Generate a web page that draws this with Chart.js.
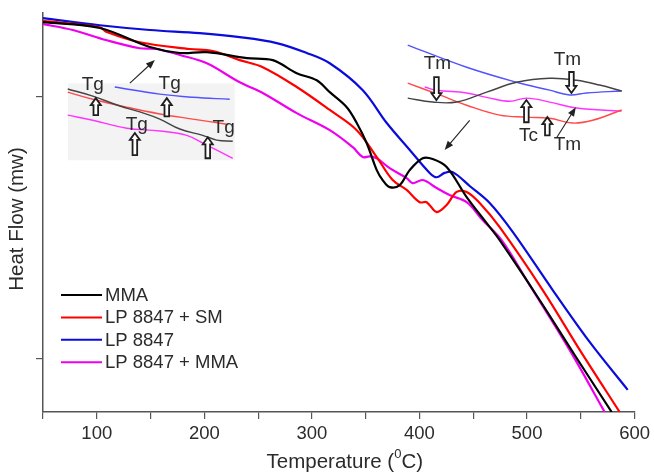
<!DOCTYPE html>
<html>
<head>
<meta charset="utf-8">
<script src="https://cdn.jsdelivr.net/npm/chart.js@4.4.1/dist/chart.umd.min.js"></script>
<style>
  html, body { margin: 0; padding: 0; background: #fff; }
  #wrap { width: 654px; height: 473px; }
</style>
</head>
<body>
<div id="wrap"><canvas id="dsc"></canvas></div>
<script>
/* DSC heat-flow curves. Temperature in degC, heat flow in arbitrary units
 * (the figure has no y tick labels). */

// main curves: [temperature, heat flow]
const mma = [
  [50, 98.5], [102.8, 97.0], [149.3, 92.2], [177.2, 90.7], [202.3, 90.9],
  [239.5, 89.4], [263.6, 88.9], [285.9, 85.6], [304.5, 83.8], [316.6, 80.8],
  [332.4, 77.0], [341.7, 73.0], [351.0, 67.9], [360.3, 61.1], [365.8, 58.6],
  [372.3, 56.8], [381.6, 57.3], [390.9, 61.1], [403.0, 64.1], [412.3, 63.9],
  [425.3, 61.9], [443.9, 54.3], [462.5, 47.7], [474.6, 43.4], [511.7, 28.3],
  [544.3, 14.4], [578.7, 0],
];
const lpSm = [
  [50, 98.8], [102.8, 97.2], [109.3, 96.0], [140.0, 93.4], [186.4, 91.7],
  [207.8, 91.2], [232.9, 88.9], [254.3, 87.1], [285.9, 82.1], [316.6, 76.3],
  [341.7, 71.2], [360.3, 64.4], [375.1, 58.6], [388.1, 56.1], [400.2, 53.0],
  [406.7, 53.0], [416.0, 50.5], [425.3, 52.3], [434.6, 55.6], [443.9, 55.6],
  [456.0, 52.8], [474.6, 46.7], [514.6, 30.8], [549.0, 15.7], [586.1, 0],
];
const lp = [
  [50, 99.5], [102.8, 97.7], [149.3, 96.5], [195.7, 95.7], [232.9, 94.7],
  [267.3, 93.2], [295.2, 90.7], [316.6, 88.1], [347.3, 81.3], [369.6, 73.0],
  [391.0, 66.2], [409.5, 60.4], [416.0, 59.3], [423.4, 60.4], [430.9, 60.6],
  [446.7, 57.1], [465.3, 52.8], [486.7, 45.5], [523.9, 30.8], [558.2, 17.7],
  [593.6, 5.6],
];
const lpMma = [
  [50, 98.0], [77.7, 96.5], [109.3, 93.9], [140.0, 91.9], [155.8, 91.7],
  [177.2, 90.2], [202.3, 88.1], [232.9, 83.3], [254.3, 80.6], [285.9, 75.5],
  [316.6, 71.2], [338.0, 66.9], [347.3, 64.4], [353.8, 64.6], [360.3, 64.1],
  [372.3, 61.6], [388.1, 59.1], [393.7, 57.8], [403.0, 58.6], [416.0, 56.6],
  [428.0, 54.8], [443.9, 53.0], [458.7, 48.5], [476.4, 43.4], [502.4, 32.1],
  [539.6, 15.7], [572.2, 0],
];

// zoomed inset near Tg (drawn inside the grey box)
const tgMma   = [[73.0, 81.6], [96.3, 79.8], [121.4, 77.3], [140.0, 75.8], [158.6, 74.0], [177.2, 71.5], [198.5, 69.9], [211.5, 68.7], [226.4, 68.4]];
const tgLpSm  = [[73.0, 80.8], [96.3, 79.0], [127.9, 77.0], [158.6, 75.3], [189.2, 74.0], [220.8, 72.7]];
const tgLp    = [[116.7, 82.1], [158.6, 80.3], [189.2, 79.5], [223.6, 79.0]];
const tgLpMma = [[73.0, 75.0], [96.3, 73.7], [127.9, 71.7], [158.6, 71.0], [183.7, 69.9], [202.3, 67.4], [226.4, 64.1]];

// zoomed inset near Tm / Tc
const tmMma   = [[389.1, 79.3], [412.3, 78.3], [434.6, 78.3], [462.5, 80.8], [490.4, 83.3], [521.0, 84.3], [546.1, 83.8], [567.5, 82.6], [588.0, 81.1]];
const tmLpSm  = [[389.1, 83.1], [418.8, 80.1], [443.9, 77.5], [474.6, 75.0], [499.7, 74.5], [521.0, 74.2], [542.4, 73.0], [561.0, 73.7], [588.0, 76.3]];
const tmLp    = [[389.1, 92.7], [443.9, 87.1], [490.4, 83.3], [521.0, 81.3], [539.6, 80.1], [555.4, 80.6], [588.0, 81.1]];
const tmLpMma = [[404.9, 82.1], [416.0, 81.3], [443.9, 80.6], [462.5, 79.5], [483.9, 78.5], [499.7, 79.3], [521.0, 78.3], [546.1, 76.8], [588.0, 76.0]];

// grey box behind the Tg inset: [t0, t1, yTop, yBottom]
const tgBox = [73.3, 228.3, 83.0, 63.6];

// block arrows: [temperature, yTip, yTail]
const blockArrows = [
  [99.1, 79.3, 75.0], [165.1, 79.3, 74.7], [135.4, 70.5, 64.9], [203.2, 69.4, 64.1],
  [415.8, 78.8, 84.6], [541.3, 80.6, 85.9], [499.4, 78.8, 73.2], [518.9, 74.5, 69.9],
];
// thin pointer arrows: [t0, y0, t1, y1] (head at the second point)
const pointers = [
  [130.8, 83.1, 154.0, 88.9],
  [446.7, 73.7, 423.4, 66.2],
  [527.8, 69.4, 545.4, 77.0],
];
// transition labels: [text, temperature, y]
const marks = [
  ['Tg', 96.3, 82.6], ['Tg', 167.8, 82.8], ['Tg', 137.2, 72.5], ['Tg', 218.0, 71.7],
  ['Tm', 416.7, 88.1], ['Tm', 537.5, 89.1], ['Tc', 501.3, 69.9], ['Tm', 537.5, 67.4],
];

const FONT = "'Liberation Sans', Arial, sans-serif";
const TEXT = '#2b2b2b';

const xy = (arr) => arr.map(([x, y]) => ({ x, y }));

function mainSet(label, data, color) {
  return { label, data: xy(data), borderColor: color, borderWidth: 2.2, pointRadius: 0, tension: 0.35, main: true };
}
function insetSet(data, color) {
  return { label: '', data: xy(data), borderColor: color, borderWidth: 1.4, pointRadius: 0, tension: 0.4 };
}

/* ---------- decorations: inset box, arrows, labels, legend, titles ---------- */

function blockArrow(ctx, x, yTip, yTail) {
  const d = yTail > yTip ? 1 : -1;
  const hl = 7, hw = 5, sw = 2.3;
  ctx.beginPath();
  ctx.moveTo(x, yTip);
  ctx.lineTo(x + hw, yTip + d * hl);
  ctx.lineTo(x + sw, yTip + d * hl);
  ctx.lineTo(x + sw, yTail);
  ctx.lineTo(x - sw, yTail);
  ctx.lineTo(x - sw, yTip + d * hl);
  ctx.lineTo(x - hw, yTip + d * hl);
  ctx.closePath();
  ctx.fillStyle = '#fff';
  ctx.fill();
  ctx.lineWidth = 1.8;
  ctx.strokeStyle = '#1e1e1e';
  ctx.stroke();
}

function pointer(ctx, x0, y0, x1, y1) {
  const a = Math.atan2(y1 - y0, x1 - x0);
  ctx.strokeStyle = '#222';
  ctx.lineWidth = 1.1;
  ctx.beginPath();
  ctx.moveTo(x0, y0);
  ctx.lineTo(x1 - 5 * Math.cos(a), y1 - 5 * Math.sin(a));
  ctx.stroke();
  ctx.fillStyle = '#222';
  ctx.beginPath();
  ctx.moveTo(x1, y1);
  ctx.lineTo(x1 - 9 * Math.cos(a) + 3.5 * Math.sin(a), y1 - 9 * Math.sin(a) - 3.5 * Math.cos(a));
  ctx.lineTo(x1 - 9 * Math.cos(a) - 3.5 * Math.sin(a), y1 - 9 * Math.sin(a) + 3.5 * Math.cos(a));
  ctx.closePath();
  ctx.fill();
}

const decor = {
  id: 'decor',
  beforeDatasetsDraw(chart) {
    const { ctx, scales: { x, y } } = chart;
    const [t0, t1, yt, yb] = tgBox;
    ctx.save();
    ctx.fillStyle = '#f3f3f3';
    ctx.fillRect(x.getPixelForValue(t0), y.getPixelForValue(yt),
      x.getPixelForValue(t1) - x.getPixelForValue(t0), y.getPixelForValue(yb) - y.getPixelForValue(yt));
    ctx.restore();
  },
  afterDatasetsDraw(chart) {
    const { ctx, chartArea: ca, scales: { x, y } } = chart;
    ctx.save();

    blockArrows.forEach(([t, a, b]) => blockArrow(ctx, x.getPixelForValue(t), y.getPixelForValue(a), y.getPixelForValue(b)));
    pointers.forEach(([t0, y0, t1, y1]) =>
      pointer(ctx, x.getPixelForValue(t0), y.getPixelForValue(y0), x.getPixelForValue(t1), y.getPixelForValue(y1)));

    ctx.fillStyle = TEXT;
    ctx.font = `19px ${FONT}`;
    ctx.textAlign = 'center';
    ctx.textBaseline = 'middle';
    marks.forEach(([txt, t, v]) => ctx.fillText(txt, x.getPixelForValue(t), y.getPixelForValue(v)));

    // legend, bottom-left inside the plot
    const sets = chart.data.datasets.filter((d) => d.main);
    ctx.font = `18.5px ${FONT}`;
    ctx.textAlign = 'left';
    sets.forEach((d, i) => {
      const yy = ca.top + 282 + i * 22.4;
      ctx.strokeStyle = d.borderColor;
      ctx.lineWidth = 2;
      ctx.beginPath();
      ctx.moveTo(ca.left + 18, yy);
      ctx.lineTo(ca.left + 59, yy);
      ctx.stroke();
      ctx.fillStyle = TEXT;
      ctx.fillText(d.label, ca.left + 62, yy + 1);
    });

    // axis titles
    const big = `20.5px ${FONT}`, small = `13px ${FONT}`;
    ctx.textAlign = 'left';
    const cx = (ca.left + ca.right) / 2 + 6;
    const parts = ['Temperature (', '0', 'C)'];
    ctx.font = big;
    const w0 = ctx.measureText(parts[0]).width;
    const w2 = ctx.measureText(parts[2]).width;
    ctx.font = small;
    const w1 = ctx.measureText(parts[1]).width;
    const sx = cx - (w0 + w1 + w2) / 2;
    const ty = 462;
    ctx.font = big;
    ctx.fillText(parts[0], sx, ty);
    ctx.fillText(parts[2], sx + w0 + w1, ty);
    ctx.font = small;
    ctx.fillText(parts[1], sx + w0, ty - 8);

    ctx.font = big;
    ctx.translate(17, 219);
    ctx.rotate(-Math.PI / 2);
    ctx.textAlign = 'center';
    ctx.fillText('Heat Flow (mw)', 0, 0);
    ctx.restore();
  },
};

new Chart(document.getElementById('dsc'), {
  type: 'line',
  data: {
    datasets: [
      mainSet('MMA', mma, '#000000'),
      mainSet('LP 8847 + SM', lpSm, '#ff0000'),
      mainSet('LP 8847', lp, '#0b0bdc'),
      mainSet('LP 8847 + MMA', lpMma, '#ee00ee'),
      insetSet(tgMma, '#444444'),
      insetSet(tgLpSm, '#ff4a4a'),
      insetSet(tgLp, '#5252ff'),
      insetSet(tgLpMma, '#ff33ff'),
      insetSet(tmMma, '#444444'),
      insetSet(tmLpSm, '#ff4a4a'),
      insetSet(tmLp, '#5252ff'),
      insetSet(tmLpMma, '#ff33ff'),
    ],
  },
  options: {
    responsive: true,
    maintainAspectRatio: false,
    animation: false,
    layout: { padding: { top: 13, right: 19, left: 0, bottom: 0 } },
    plugins: { legend: { display: false }, tooltip: { enabled: false } },
    scales: {
      x: {
        type: 'linear',
        min: 50,
        max: 600,
        afterFit: (s) => { s.height = 61; },
        ticks: {
          stepSize: 50,
          autoSkip: false,
          maxRotation: 0,
          padding: 4,
          color: TEXT,
          font: { family: FONT, size: 18.5 },
          callback: (v) => (v % 100 === 0 ? v : ''),
        },
        grid: { drawOnChartArea: false, tickLength: 7, color: '#555', lineWidth: 1.2 },
        border: { color: '#555', width: 1.5 },
      },
      y: {
        min: 0,
        max: 100.8,
        afterFit: (s) => { s.width = 43; },
        afterBuildTicks: (s) => { s.ticks = [{ value: 13.6 }, { value: 79.8 }]; },
        ticks: { callback: () => '' },
        grid: { drawOnChartArea: false, tickLength: 7, color: '#555', lineWidth: 1.2 },
        border: { color: '#555', width: 1.5 },
      },
    },
  },
  plugins: [decor],
});
</script>
</body>
</html>
